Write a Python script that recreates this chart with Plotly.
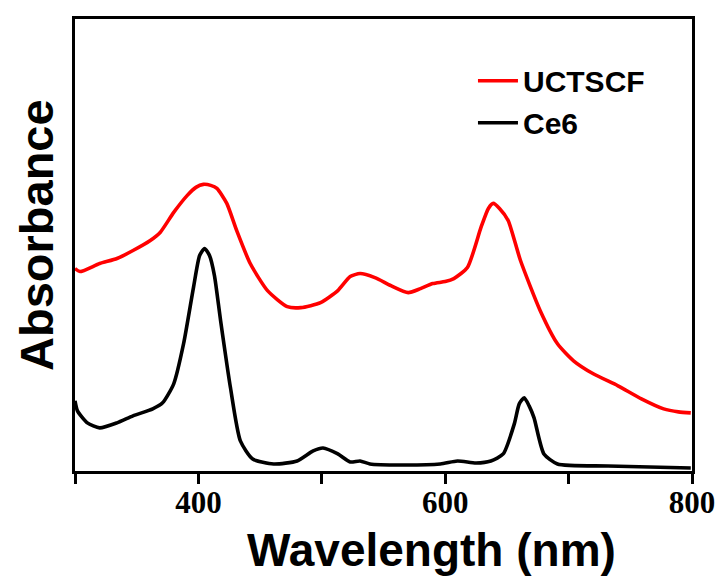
import plotly.graph_objects as go

# UCTSCF (red) spectrum, arbitrary absorbance units
uct_wl = [300, 304, 320, 334, 347, 361, 369, 380, 391, 398, 404, 410, 415, 423, 431, 442, 456, 472,
          483, 499, 513, 523, 531, 543, 556, 570, 580, 590, 600, 607, 618, 629, 635, 639, 644, 651,
          661, 677, 691, 704, 720, 740, 759, 777, 789, 799]
uct_abs = [2.02, 1.99, 2.07, 2.12, 2.20, 2.30, 2.38, 2.58, 2.75, 2.83, 2.86, 2.85, 2.82, 2.67, 2.40,
           2.07, 1.80, 1.64, 1.63, 1.68, 1.80, 1.94, 1.97, 1.93, 1.85, 1.78, 1.82, 1.87, 1.89, 1.92,
           2.03, 2.43, 2.62, 2.67, 2.62, 2.50, 2.10, 1.60, 1.27, 1.10, 0.97, 0.85, 0.72, 0.62, 0.59,
           0.58]

# Ce6 (black) spectrum
ce6_wl = [300, 302, 310, 320, 334, 347, 363, 371, 380, 388, 396, 401, 405, 409, 413, 418, 426, 434,
          444, 461, 480, 493, 501, 513, 523, 531, 539, 564, 596, 610, 625, 637, 647, 656, 660, 664,
          668, 672, 680, 691, 732, 799]
ce6_abs = [0.70, 0.60, 0.48, 0.43, 0.48, 0.55, 0.62, 0.68, 0.87, 1.27, 1.83, 2.15, 2.22, 2.15, 1.95,
           1.50, 0.83, 0.30, 0.12, 0.07, 0.10, 0.20, 0.23, 0.17, 0.09, 0.10, 0.07, 0.06, 0.07, 0.10,
           0.08, 0.10, 0.17, 0.47, 0.67, 0.73, 0.65, 0.53, 0.17, 0.07, 0.05, 0.03]

tick_vals = [300, 400, 500, 600, 700, 800]
tick_text = ["", "400", "", "600", "", "800"]

fig = go.Figure()
fig.add_trace(go.Scatter(x=uct_wl, y=uct_abs, mode="lines", name="<b>UCTSCF</b>", legendgroup="a",
                         line=dict(color="#ff0000", width=3.6, shape="spline", smoothing=0.6)))
fig.add_trace(go.Scatter(x=ce6_wl, y=ce6_abs, mode="lines", name="<b>Ce6</b>", legendgroup="b",
                         line=dict(color="#000000", width=3.6, shape="spline", smoothing=0.6)))

sans = "Liberation Sans, Arial"
# the page body adds an 8px margin, so the figure is 8px smaller than the window
fig.update_layout(
    width=715, height=572,
    margin=dict(l=67, r=31, t=11, b=109, autoexpand=False),
    paper_bgcolor="white", plot_bgcolor="white",
    showlegend=True,
    legend=dict(x=0.645, y=0.921, xanchor="left", yanchor="top",
                font=dict(family=sans, size=30, color="black"),
                bgcolor="rgba(0,0,0,0)", tracegroupgap=0, itemwidth=40),
    xaxis=dict(range=[300, 800], tickvals=tick_vals, ticktext=tick_text,
               ticks="outside", ticklen=10, tickwidth=3, tickcolor="black",
               ticklabelstandoff=-8,
               showline=True, linewidth=3, linecolor="black", mirror=True,
               showgrid=False, zeroline=False, automargin=False,
               tickfont=dict(family="Liberation Serif, Times New Roman", size=31, color="black", weight="bold")),
    yaxis=dict(range=[0, 4.51], showticklabels=False, ticks="",
               showline=True, linewidth=3, linecolor="black", mirror=True,
               showgrid=False, zeroline=False, automargin=False),
    annotations=[
        dict(text="<b>Wavelength (nm)</b>", xref="paper", yref="paper",
             x=(431 - 75) / 617, y=-(550 - 471) / 452, xanchor="center", yanchor="middle",
             showarrow=False, font=dict(family=sans, size=46, color="black")),
        dict(text="<b>Absorbance</b>", xref="paper", yref="paper", textangle=-90,
             x=-(75 - 37) / 617, y=(471 - 235) / 452, xanchor="center", yanchor="middle",
             showarrow=False, font=dict(family=sans, size=47, color="black")),
    ],
)

fig.write_html("out.html")
